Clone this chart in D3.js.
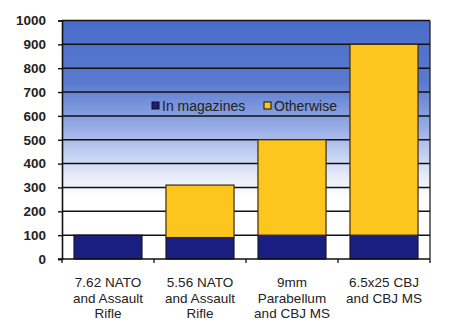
<!DOCTYPE html>
<html><head><meta charset="utf-8">
<script src="https://cdn.jsdelivr.net/npm/d3@7"></script>
<style>body{margin:0;background:#fff}svg{display:block}text{font-family:"Liberation Sans",Arial,sans-serif}</style>
</head><body>
<script>
const categories = [["7.62 NATO","and Assault","Rifle"],["5.56 NATO","and Assault","Rifle"],["9mm","Parabellum","and CBJ MS"],["6.5x25 CBJ","and CBJ MS"]];
const inMagazines = [100, 90, 100, 100];
const otherwise = [0, 220, 400, 800];
const yTicks = [0,100,200,300,400,500,600,700,800,900,1000];
const seriesNames = ["In magazines","Otherwise"];

const W=450,H=334, L=62, R=430, T=20.5, B=259;
const FONT="'Liberation Sans', Arial, sans-serif";
const svg=d3.select("body").append("svg").attr("width",W).attr("height",H);
const defs=svg.append("defs");
const g=defs.append("linearGradient").attr("id","bg").attr("x1",0).attr("y1",0).attr("x2",0).attr("y2",1);
[["0%","#4a6cca"],["26%","#5a7ad0"],["46%","#9cb0e7"],["64%","#e2e8f8"],["74%","#ffffff"],["100%","#ffffff"]]
 .forEach(s=>g.append("stop").attr("offset",s[0]).attr("stop-color",s[1]));

const x=d3.scaleBand().domain(d3.range(categories.length)).range([L,R]).paddingInner(0.26).paddingOuter(0.13);
const y=d3.scaleLinear().domain([0,1000]).range([B,T]);

svg.append("rect").attr("x",L).attr("y",T).attr("width",R-L).attr("height",B-T).attr("fill","url(#bg)");
svg.append("g").selectAll("line").data(yTicks.slice(1)).join("line")
 .attr("x1",L).attr("x2",R).attr("y1",d=>y(d)).attr("y2",d=>y(d)).attr("stroke","#111").attr("stroke-width",1.5);
svg.append("line").attr("x1",R).attr("x2",R).attr("y1",T).attr("y2",B).attr("stroke","#222").attr("stroke-width",1.3);

const bars=svg.append("g");
categories.forEach((c,i)=>{
  bars.append("rect").attr("x",x(i)).attr("width",x.bandwidth()).attr("y",y(inMagazines[i])).attr("height",y(0)-y(inMagazines[i]))
   .attr("fill","#1b1f82").attr("stroke","#111").attr("stroke-width",1);
  if(otherwise[i]>0) bars.append("rect").attr("x",x(i)).attr("width",x.bandwidth()).attr("y",y(inMagazines[i]+otherwise[i])).attr("height",y(inMagazines[i])-y(inMagazines[i]+otherwise[i]))
   .attr("fill","#fcc61e").attr("stroke","#3a2a10").attr("stroke-width",1.2);
});

// y axis
const ya=svg.append("g").attr("transform",`translate(${L},0)`).call(d3.axisLeft(y).tickValues(yTicks).tickFormat(d3.format("d")).tickSize(4).tickPadding(12));
ya.attr("font-family",FONT);
ya.select(".domain").attr("stroke","#111").attr("stroke-width",1.6);
ya.selectAll(".tick line").attr("stroke","#111").attr("stroke-width",1.4);
ya.selectAll("text").attr("font-family",FONT).attr("font-size",13.5).attr("font-weight","bold").attr("fill","#222");

// x axis line and ticks at band boundaries
svg.append("line").attr("x1",L-4).attr("x2",R).attr("y1",B).attr("y2",B).attr("stroke","#111").attr("stroke-width",1.6);
const bounds=d3.range(categories.length+1).map(i=>L+i*(R-L)/categories.length);
svg.append("g").selectAll("line").data(bounds).join("line").attr("x1",d=>d).attr("x2",d=>d).attr("y1",B).attr("y2",B+4).attr("stroke","#111").attr("stroke-width",1.3);

const xl=svg.append("g");
categories.forEach((lines,i)=>{
  const t=xl.append("text").attr("x",x(i)+x.bandwidth()/2).attr("y",287).attr("text-anchor","middle")
   .attr("font-family",FONT).attr("font-size",13.5).attr("fill","#222");
  lines.forEach((l,j)=>t.append("tspan").attr("x",x(i)+x.bandwidth()/2).attr("dy",j?15.5:0).text(l));
});

// legend
const leg=svg.append("g").attr("font-family",FONT).attr("font-size",14).attr("fill","#222");
const legX=[152,264];
const legCol=["#1b1f82","#fcc61e"];
seriesNames.forEach((n,i)=>{
  leg.append("rect").attr("x",legX[i]).attr("y",102).attr("width",7).attr("height",7).attr("fill",legCol[i]).attr("stroke","#111").attr("stroke-width",1);
  leg.append("text").attr("x",legX[i]+10).attr("y",111).text(n);
});
</script>
</body></html>
